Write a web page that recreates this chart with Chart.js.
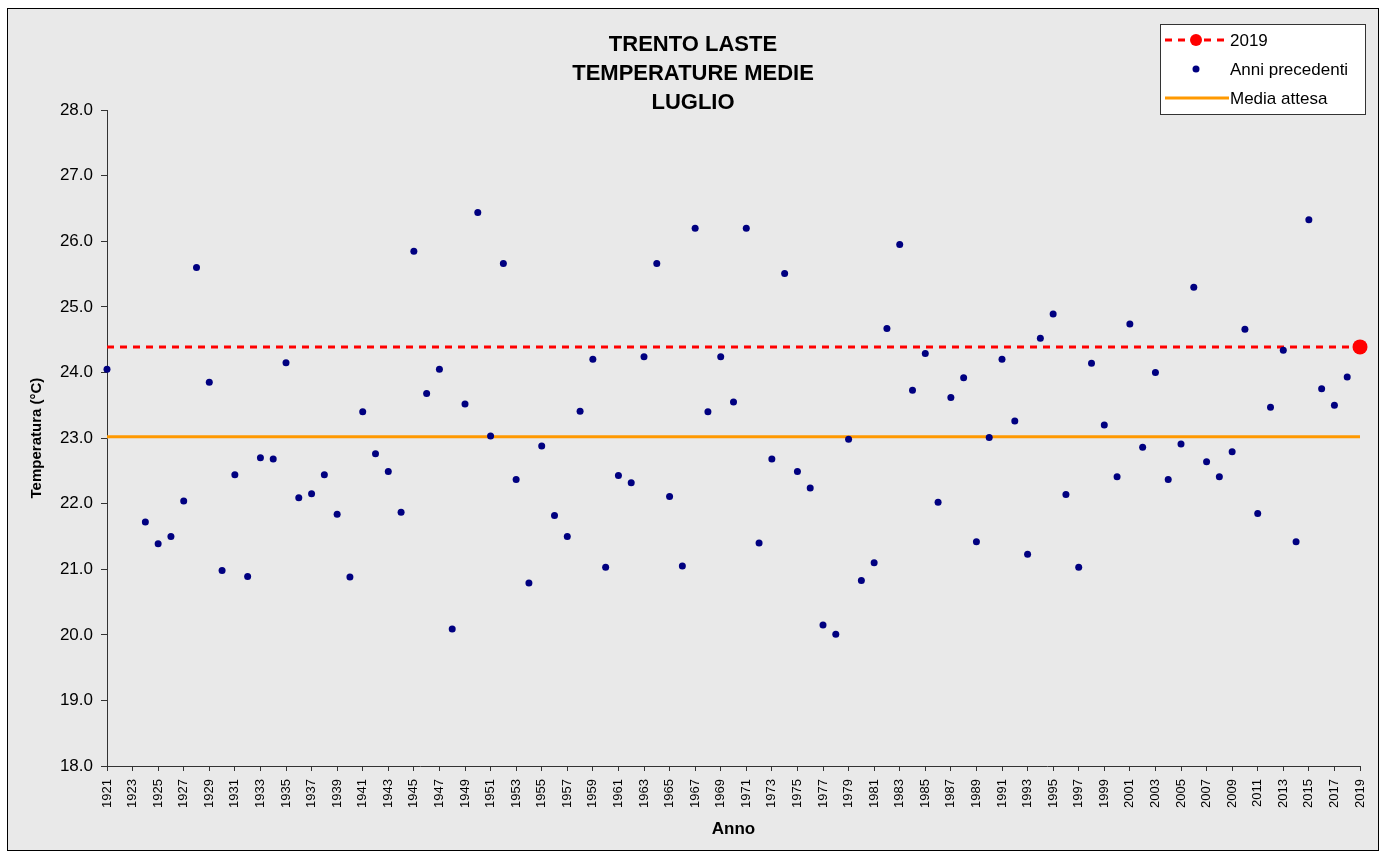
<!DOCTYPE html>
<html lang="it">
<head>
<meta charset="utf-8">
<title>Trento Laste - Temperature medie luglio</title>
<script src="https://cdn.jsdelivr.net/npm/chart.js@4.4.1/dist/chart.umd.min.js"></script>
<style>
  html, body { margin: 0; padding: 0; background: #ffffff; }
  #cornice {
    position: absolute; left: 7px; top: 8px;
    width: 1370px; height: 841px;
    border: 1px solid #000;
    background: #e9e9e9;
  }
</style>
</head>
<body>
<div id="cornice"><canvas id="grafico"></canvas></div>
<script>
// Anni precedenti (1921-2018), 1922 e 1923 mancanti
const anni = [
  1921, 1922, 1923, 1924, 1925, 1926, 1927, 1928, 1929, 1930,
  1931, 1932, 1933, 1934, 1935, 1936, 1937, 1938, 1939, 1940,
  1941, 1942, 1943, 1944, 1945, 1946, 1947, 1948, 1949, 1950,
  1951, 1952, 1953, 1954, 1955, 1956, 1957, 1958, 1959, 1960,
  1961, 1962, 1963, 1964, 1965, 1966, 1967, 1968, 1969, 1970,
  1971, 1972, 1973, 1974, 1975, 1976, 1977, 1978, 1979, 1980,
  1981, 1982, 1983, 1984, 1985, 1986, 1987, 1988, 1989, 1990,
  1991, 1992, 1993, 1994, 1995, 1996, 1997, 1998, 1999, 2000,
  2001, 2002, 2003, 2004, 2005, 2006, 2007, 2008, 2009, 2010,
  2011, 2012, 2013, 2014, 2015, 2016, 2017, 2018
];
const temperature = [
  24.05, null,  null,  21.72, 21.39, 21.50, 22.04, 25.60, 23.85, 20.98,
  22.44, 20.89, 22.70, 22.68, 24.15, 22.09, 22.15, 22.44, 21.84, 20.88,
  23.40, 22.76, 22.49, 21.87, 25.85, 23.68, 24.05, 20.09, 23.52, 26.44,
  23.03, 25.66, 22.37, 20.79, 22.88, 21.82, 21.50, 23.41, 24.20, 21.03,
  22.43, 22.32, 24.24, 25.66, 22.11, 21.05, 26.20, 23.40, 24.24, 23.55,
  26.20, 21.40, 22.68, 25.51, 22.49, 22.24, 20.15, 20.01, 22.98, 20.83,
  21.10, 24.67, 25.95, 23.73, 24.29, 22.02, 23.62, 23.92, 21.42, 23.01,
  24.20, 23.26, 21.23, 24.52, 24.89, 22.14, 21.03, 24.14, 23.20, 22.41,
  24.74, 22.86, 24.00, 22.37, 22.91, 25.30, 22.64, 22.41, 22.79, 24.66,
  21.85, 23.47, 24.34, 21.42, 26.33, 23.75, 23.50, 23.93
];
const anno2019 = 2019;
const temp2019 = 24.39;
const mediaAttesa = 23.02;
const titolo = ['TRENTO LASTE', 'TEMPERATURE MEDIE', 'LUGLIO'];

const FONT = "'Liberation Sans', Arial, sans-serif";
const COLORI = {
  anno: '#ff0000',
  precedenti: '#000080',
  media: '#ff9900',
  assi: '#333333',
  testo: '#000000'
};

const puntiPrecedenti = [];
anni.forEach((a, i) => {
  if (temperature[i] != null) puntiPrecedenti.push({ x: a, y: temperature[i] });
});

// legenda disegnata a riquadro in alto a destra, come nell'originale
const legendaRiquadro = {
  id: 'legendaRiquadro',
  afterDraw(chart) {
    const ctx = chart.ctx;
    const bx = 1152, by = 15, bw = 205, bh = 90;
    ctx.save();
    ctx.fillStyle = '#ffffff';
    ctx.fillRect(bx, by, bw, bh);
    ctx.strokeStyle = '#333333';
    ctx.lineWidth = 1;
    ctx.strokeRect(bx + 0.5, by + 0.5, bw, bh);

    const righe = [31, 60, 89];
    const x0 = 1157, x1 = 1221, xc = 1188;
    chart.data.datasets.forEach((ds, i) => {
      const y = righe[i];
      if (ds.showLine) {
        ctx.beginPath();
        ctx.setLineDash(ds.borderDash || []);
        ctx.strokeStyle = ds.borderColor;
        ctx.lineWidth = ds.borderWidth;
        ctx.moveTo(x0, y);
        ctx.lineTo(x1, y);
        ctx.stroke();
        ctx.setLineDash([]);
      }
      if (ds.legendDot) {
        ctx.beginPath();
        ctx.fillStyle = ds.backgroundColor;
        ctx.arc(xc, y, ds.legendDot, 0, Math.PI * 2);
        ctx.fill();
      }
      ctx.fillStyle = COLORI.testo;
      ctx.font = '17px ' + FONT;
      ctx.textBaseline = 'middle';
      ctx.textAlign = 'left';
      ctx.fillText(ds.label, 1222, y + 1);
    });
    ctx.restore();
  }
};

new Chart(document.getElementById('grafico'), {
  type: 'scatter',
  data: {
    datasets: [
      {
        label: String(anno2019),
        data: [{ x: anni[0], y: temp2019 }, { x: anno2019, y: temp2019 }],
        showLine: true,
        clip: false,
        borderColor: COLORI.anno,
        backgroundColor: COLORI.anno,
        borderWidth: 3,
        borderDash: [7, 6],
        pointRadius: [0, 7.5],
        pointBorderWidth: 0,
        legendDot: 6,
        order: 1
      },
      {
        label: 'Anni precedenti',
        data: puntiPrecedenti,
        showLine: false,
        clip: false,
        backgroundColor: COLORI.precedenti,
        borderColor: COLORI.precedenti,
        pointRadius: 3.5,
        pointBorderWidth: 0,
        legendDot: 3.5,
        order: 0
      },
      {
        label: 'Media attesa',
        data: [{ x: anni[0], y: mediaAttesa }, { x: anno2019, y: mediaAttesa }],
        showLine: true,
        borderColor: COLORI.media,
        backgroundColor: COLORI.media,
        borderWidth: 3,
        pointRadius: 0,
        order: 2
      }
    ]
  },
  options: {
    responsive: true,
    maintainAspectRatio: false,
    animation: false,
    layout: { padding: 0 },
    plugins: {
      legend: { display: false },
      tooltip: { enabled: false },
      title: {
        display: true,
        text: titolo,
        color: COLORI.testo,
        font: { family: FONT, size: 22, weight: 'bold', lineHeight: 1.32 },
        padding: { top: 21, bottom: -7 }
      }
    },
    scales: {
      x: {
        type: 'linear',
        min: anni[0],
        max: anno2019,
        afterFit(scale) {
          scale.height = 84;
          scale.paddingRight = 18;
        },
        ticks: {
          stepSize: 2,
          autoSkip: false,
          minRotation: 90,
          maxRotation: 90,
          padding: 8,
          color: COLORI.testo,
          font: { family: FONT, size: 13 },
          callback: v => String(v)
        },
        grid: { drawOnChartArea: false, drawTicks: true, tickLength: 5, color: COLORI.assi },
        border: { color: COLORI.assi, width: 1 },
        title: {
          display: true,
          text: 'Anno',
          color: COLORI.testo,
          font: { family: FONT, size: 17, weight: 'bold' },
          padding: { top: 0, bottom: 10 }
        }
      },
      y: {
        min: 18,
        max: 28,
        afterFit(scale) { scale.width = 99; },
        ticks: {
          stepSize: 1,
          padding: 8,
          color: COLORI.testo,
          font: { family: FONT, size: 17 },
          callback: v => v.toFixed(1)
        },
        grid: { drawOnChartArea: false, drawTicks: true, tickLength: 6, color: COLORI.assi },
        border: { color: COLORI.assi, width: 1 },
        title: {
          display: true,
          text: 'Temperatura (°C)',
          color: COLORI.testo,
          font: { family: FONT, size: 15, weight: 'bold' },
          padding: { top: 20, bottom: 0 }
        }
      }
    }
  },
  plugins: [legendaRiquadro]
});
</script>
</body>
</html>
